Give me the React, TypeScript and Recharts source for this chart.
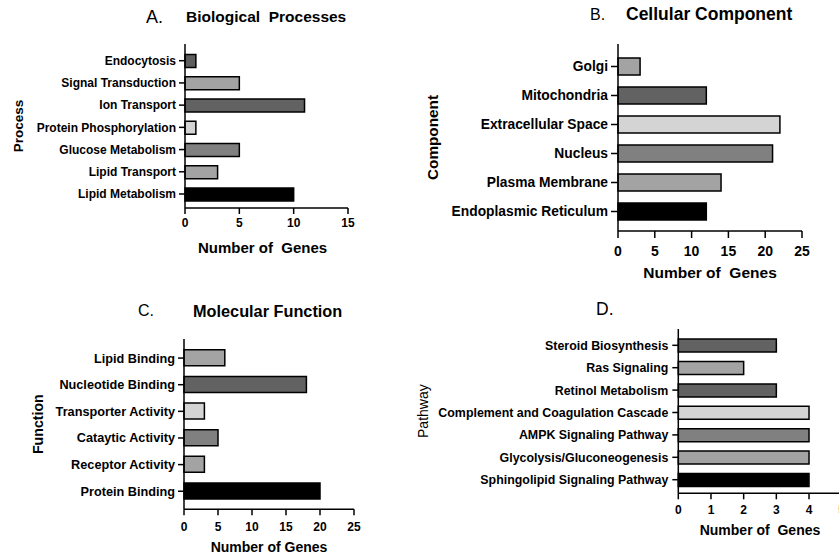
import React from 'react';
import { BarChart, Bar, XAxis, YAxis, Cell } from 'recharts';

const FONT = '"Liberation Sans", Arial, Helvetica, sans-serif';

// A. Biological Processes
const processNames = [
  'Endocytosis',
  'Signal Transduction',
  'Ion Transport',
  'Protein Phosphorylation',
  'Glucose Metabolism',
  'Lipid Transport',
  'Lipid Metabolism',
];
const processGenes = [1, 5, 11, 1, 5, 3, 10];
const processTicks = [0, 5, 10, 15];

// B. Cellular Component
const componentNames = [
  'Golgi',
  'Mitochondria',
  'Extracellular Space',
  'Nucleus',
  'Plasma Membrane',
  'Endoplasmic Reticulum',
];
const componentGenes = [3, 12, 22, 21, 14, 12];
const componentTicks = [0, 5, 10, 15, 20, 25];

// C. Molecular Function
const functionNames = [
  'Lipid Binding',
  'Nucleotide Binding',
  'Transporter Activity',
  'Cataytic Activity',
  'Receptor Activity',
  'Protein Binding',
];
const functionGenes = [6, 18, 3, 5, 3, 20];
const functionTicks = [0, 5, 10, 15, 20, 25];

// D. Pathway
const pathwayNames = [
  'Steroid Biosynthesis',
  'Ras Signaling',
  'Retinol Metabolism',
  'Complement and Coagulation Cascade',
  'AMPK Signaling Pathway',
  'Glycolysis/Gluconeogenesis',
  'Sphingolipid Signaling Pathway',
];
const pathwayGenes = [3, 2, 3, 4, 4, 4, 4];
const pathwayTicks = [0, 1, 2, 3, 4, 5];

// grey shades, top to bottom
const fillsA = ['#5e5e5e', '#a3a3a3', '#626262', '#d4d4d4', '#808080', '#a3a3a3', '#000000'];
const fillsB = ['#a3a3a3', '#626262', '#d4d4d4', '#808080', '#a3a3a3', '#000000'];
const fillsC = ['#a3a3a3', '#626262', '#d4d4d4', '#808080', '#a3a3a3', '#000000'];
const fillsD = ['#626262', '#a3a3a3', '#626262', '#d4d4d4', '#808080', '#a3a3a3', '#000000'];

const rows = (names: string[], values: number[]) =>
  names.map((name, i) => ({ name, value: values[i] }));

const line = { stroke: '#000', strokeWidth: 1.5 };

interface PanelProps {
  names: string[];
  values: number[];
  fills: string[];
  ticks: number[];
  left: number;
  top: number;
  width: number;
  height: number;
  plotTop: number;
  plotRight: number;
  yWidth: number;
  xHeight: number;
  pad: { top: number; bottom: number };
  barSize: number;
  catFont: number;
  numFont: number;
  yTick: number;
  yMargin: number;
  xTick: number;
  xMargin: number;
  xLabel: string;
  xLabelFont: number;
  xLabelOffset: number;
  xLabelDx?: number;
  yLabel: string;
  yLabelFont: number;
  yLabelOffset: number;
  yLabelWeight?: string;
}

const Panel: React.FC<PanelProps> = (p) => (
  <div style={{ position: 'absolute', left: p.left, top: p.top }}>
    <BarChart
      width={p.width}
      height={p.height}
      layout="vertical"
      data={rows(p.names, p.values)}
      margin={{ top: p.plotTop, right: p.plotRight, left: 0, bottom: 0 }}
    >
      <XAxis
        type="number"
        domain={[p.ticks[0], p.ticks[p.ticks.length - 1]]}
        ticks={p.ticks}
        height={p.xHeight}
        axisLine={line}
        tickLine={line}
        tickSize={p.xTick}
        tickMargin={p.xMargin}
        tick={{ fill: '#000', fontSize: p.numFont, fontWeight: 'bold', fontFamily: FONT }}
        label={{
          value: p.xLabel,
          position: 'insideBottom',
          offset: p.xLabelOffset,
          dx: p.xLabelDx || 0,
          style: { fill: '#000', fontSize: p.xLabelFont, fontWeight: 'bold', fontFamily: FONT },
        }}
      />
      <YAxis
        type="category"
        dataKey="name"
        width={p.yWidth}
        interval={0}
        padding={p.pad}
        axisLine={line}
        tickLine={line}
        tickSize={p.yTick}
        tickMargin={p.yMargin}
        tick={{ fill: '#000', fontSize: p.catFont, fontWeight: 'bold', fontFamily: FONT }}
        label={{
          value: p.yLabel,
          angle: -90,
          position: 'insideLeft',
          offset: p.yLabelOffset,
          style: {
            fill: '#000',
            fontSize: p.yLabelFont,
            fontWeight: p.yLabelWeight || 'bold',
            fontFamily: FONT,
            textAnchor: 'middle',
          },
        }}
      />
      <Bar dataKey="value" barSize={p.barSize} stroke="#000" strokeWidth={1.5} isAnimationActive={false}>
        {p.names.map((n, i) => (
          <Cell key={n} fill={p.fills[i]} />
        ))}
      </Bar>
    </BarChart>
  </div>
);

const Title: React.FC<{ x: number; cy: number; size: number; bold?: boolean; text: string }> = ({
  x,
  cy,
  size,
  bold,
  text,
}) => (
  <div
    style={{
      position: 'absolute',
      left: x,
      top: cy - size * 0.49,
      fontSize: size,
      lineHeight: `${size}px`,
      fontWeight: bold ? 'bold' : 'normal',
      fontFamily: FONT,
      whiteSpace: 'pre',
      color: '#000',
    }}
  >
    {text}
  </div>
);

const GENES_WIDE = 'Number of\u00a0 Genes';

export default function App() {
  return (
    <div
      style={{
        position: 'absolute',
        left: 0,
        top: 0,
        width: 839,
        height: 556,
        overflow: 'hidden',
        background: '#fff',
      }}
    >
      <Title x={146} cy={17} size={18} text="A." />
      <Title x={186} cy={17} size={15.5} bold text="Biological  Processes" />
      <Title x={590} cy={15} size={16} text="B." />
      <Title x={626} cy={15} size={17.5} bold text="Cellular Component" />
      <Title x={138} cy={310.5} size={16} text="C." />
      <Title x={193} cy={310.5} size={16.3} bold text="Molecular Function" />
      <Title x={596} cy={310} size={17.5} text="D." />

      <Panel
        names={processNames}
        values={processGenes}
        fills={fillsA}
        ticks={processTicks}
        left={0}
        top={0}
        width={420}
        height={280}
        plotTop={44}
        plotRight={72}
        yWidth={185}
        xHeight={72}
        pad={{ top: 5.6, bottom: 2.9 }}
        barSize={13}
        catFont={12}
        numFont={12}
        yTick={6}
        yMargin={3}
        xTick={6}
        xMargin={4}
        xLabel={GENES_WIDE}
        xLabelFont={15}
        xLabelOffset={26.6}
        xLabelDx={-4}
        yLabel="Process"
        yLabelFont={13.5}
        yLabelOffset={18}
      />

      <Panel
        names={componentNames}
        values={componentGenes}
        fills={fillsB}
        ticks={componentTicks}
        left={420}
        top={0}
        width={419}
        height={280}
        plotTop={44}
        plotRight={37}
        yWidth={198}
        xHeight={49}
        pad={{ top: 8, bottom: 5 }}
        barSize={17}
        catFont={13.8}
        numFont={14}
        yTick={7}
        yMargin={3}
        xTick={7}
        xMargin={8}
        xLabel={GENES_WIDE}
        xLabelFont={15.5}
        xLabelOffset={2.1}
        yLabel="Component"
        yLabelFont={15.3}
        yLabelOffset={13}
      />

      <Panel
        names={functionNames}
        values={functionGenes}
        fills={fillsC}
        ticks={functionTicks}
        left={0}
        top={280}
        width={420}
        height={276}
        plotTop={59}
        plotRight={66}
        yWidth={184}
        xHeight={46.7}
        pad={{ top: 5.75, bottom: 4.75 }}
        barSize={16}
        catFont={12.7}
        numFont={12}
        yTick={6}
        yMargin={3}
        xTick={6}
        xMargin={7}
        xLabel="Number of Genes"
        xLabelFont={14}
        xLabelOffset={4.3}
        yLabel="Function"
        yLabelFont={14.2}
        yLabelOffset={38}
      />

      <Panel
        names={pathwayNames}
        values={pathwayGenes}
        fills={fillsD}
        ticks={pathwayTicks}
        left={400}
        top={280}
        width={460}
        height={276}
        plotTop={49}
        plotRight={18.3}
        yWidth={278.3}
        xHeight={62.7}
        pad={{ top: 5.1, bottom: 2.4 }}
        barSize={13}
        catFont={12.4}
        numFont={12}
        yTick={6}
        yMargin={4}
        xTick={6}
        xMargin={6.5}
        xLabel={GENES_WIDE}
        xLabelFont={14}
        xLabelOffset={21}
        yLabel="Pathway"
        yLabelFont={14}
        yLabelOffset={23.3}
        yLabelWeight="normal"
      />
    </div>
  );
}
